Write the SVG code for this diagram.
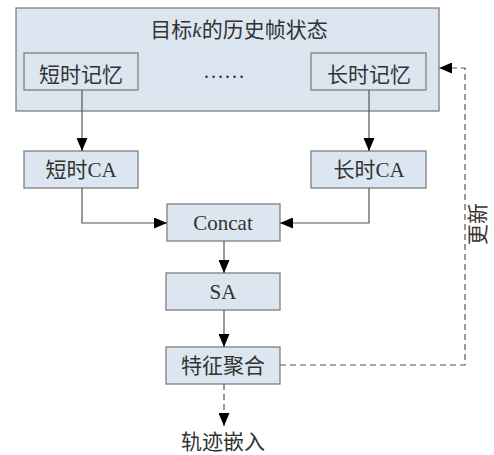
<svg xmlns="http://www.w3.org/2000/svg" width="494" height="455" viewBox="0 0 494 455">
<defs>
<style>
.box{fill:#dce6f0;stroke:#7f7f7f;stroke-width:1.3}
.t{font-family:"Liberation Serif","Noto Sans CJK SC",serif;font-size:21px;fill:#333;text-anchor:middle}
.ln{fill:none;stroke:#555;stroke-width:1.2}
.dash{fill:none;stroke:#555;stroke-width:1.2;stroke-dasharray:6,4}
</style>
<marker id="ah" viewBox="0 0 13 11" refX="13" refY="5.5" markerWidth="13" markerHeight="11" markerUnits="userSpaceOnUse" orient="auto">
<path d="M0,0 L13,5.5 L0,11 Z" fill="#000"/>
</marker>
</defs>
<rect width="494" height="455" fill="#fff"/>
<g id="history">
<rect class="box" x="16" y="8" width="423" height="103"/>
<text class="t" x="239" y="37">目标<tspan font-style="italic">k</tspan>的历史帧状态</text>
<text class="t" x="224" y="78">……</text>
</g>
<g id="short_mem">
<rect class="box" x="24" y="53" width="114" height="37"/>
<text class="t" x="81" y="82">短时记忆</text>
</g>
<g id="long_mem">
<rect class="box" x="311" y="53" width="115" height="37"/>
<text class="t" x="369" y="82">长时记忆</text>
</g>
<g id="short_ca">
<rect class="box" x="24" y="151" width="114" height="37"/>
<text class="t" x="81" y="177">短时CA</text>
</g>
<g id="long_ca">
<rect class="box" x="311" y="151" width="115" height="37"/>
<text class="t" x="369" y="177">长时CA</text>
</g>
<g id="concat">
<rect class="box" x="167" y="204" width="113" height="37"/>
<text class="t" x="223" y="230">Concat</text>
</g>
<g id="sa">
<rect class="box" x="166" y="273" width="114" height="37"/>
<text class="t" x="223" y="299">SA</text>
</g>
<g id="agg">
<rect class="box" x="166" y="347" width="114" height="37"/>
<text class="t" x="223" y="373">特征聚合</text>
</g>
<g id="traj">
<text class="t" x="223" y="449">轨迹嵌入</text>
</g>
<g id="connectors">
<line class="ln" x1="82" y1="90" x2="82" y2="151" marker-end="url(#ah)"/>
<line class="ln" x1="369" y1="90" x2="369" y2="151" marker-end="url(#ah)"/>
<polyline class="ln" points="82,188 82,223 167,223" marker-end="url(#ah)"/>
<polyline class="ln" points="369,188 369,223 280,223" marker-end="url(#ah)"/>
<line class="ln" x1="224" y1="241" x2="224" y2="273" marker-end="url(#ah)"/>
<line class="ln" x1="224" y1="310" x2="224" y2="347" marker-end="url(#ah)"/>
<line class="dash" x1="224" y1="384" x2="224" y2="426" marker-end="url(#ah)"/>
<polyline class="dash" points="280,365 465,365 465,68 439,68" marker-end="url(#ah)"/>
<text class="t" transform="translate(485,224) rotate(-90)">更新</text>
</g>
</svg>
